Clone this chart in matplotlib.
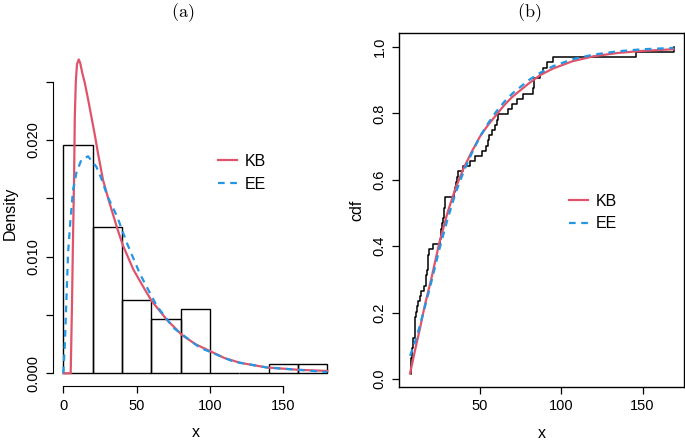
"""Histogram + fitted densities (a) and empirical cdf + fitted cdfs (b)."""

import numpy as np
import matplotlib
matplotlib.use("Agg")
import matplotlib.pyplot as plt

plt.rcParams["font.family"] = ["Liberation Sans", "DejaVu Sans"]
plt.rcParams["mathtext.fontset"] = "cm"

sample = [
    7.6, 7.7, 7.8, 7.9, 8.0, 8.05, 8.9, 9.0, 9.8, 9.9, 10.0, 10.1,
    10.8, 11.0, 11.8, 13.2, 14.0, 15.4, 16.6, 17.0, 17.2, 17.8, 18.0, 18.2,
    18.4, 21.0, 25.6, 25.9, 26.2, 26.8, 27.2, 27.6, 28.0, 28.4, 28.7,
    33.8, 34.4, 35.0, 35.8, 36.8, 39.8, 43.6, 47.0, 51.0, 53.5, 55.0,
    55.5, 57.6, 59.2, 60.4, 61.2, 67.4, 69.5, 72.6, 76.7, 82.9, 83.0,
    83.1, 87.0, 88.6, 91.0, 95.0, 146.0, 169.5,
]
breaks = [0, 20, 40, 60, 80, 100, 120, 140, 160, 180]

# fitted densities
kb_pdf_x = [0, 5.0, 5.9, 6.6, 7.3, 7.8, 8.5, 9.3, 10.5, 11.5, 12.8, 14.6, 17.0,
            19.1, 21.5, 23.7, 27.0, 31.0, 36.8, 40.5, 47.7, 55.0, 60.2, 70.5,
            80.7, 90.0, 100.0, 110.0, 120.5, 138.6, 160.0, 180.0]
kb_pdf_y = [0, 0, 0.0060, 0.0117, 0.0166, 0.0220, 0.0250, 0.0265, 0.0269, 0.0266,
            0.0258, 0.0249, 0.0234, 0.0220, 0.0204, 0.0188, 0.0166, 0.0148, 0.0124,
            0.0110, 0.0089, 0.0073, 0.0062, 0.0046, 0.0033, 0.0025, 0.0019, 0.0013,
            0.0009, 0.0005, 0.0003, 0.0002]
ee_pdf_x = [0, 1.0, 2.0, 3.2, 4.8, 6.6, 8.9, 12.3, 16.8, 22.5, 25.9, 30.0, 36.8,
            43.2, 52.3, 63.6, 75.0, 93.0, 116.0, 138.6, 160.0, 180.0]
ee_pdf_y = [0, 0.0025, 0.0060, 0.0103, 0.0131, 0.0157, 0.0172, 0.0183, 0.0186,
            0.0177, 0.0167, 0.0152, 0.0134, 0.0112, 0.0085, 0.0058, 0.0039,
            0.0022, 0.0010, 0.0005, 0.0003, 0.0001]

# fitted cdfs
kb_cdf_x = [7.0, 10, 13, 16, 20, 25, 30, 35, 40, 45, 50, 55, 60, 65, 70, 75, 80,
            87, 95, 107, 120, 135, 150, 169]
kb_cdf_y = [0.017, 0.085, 0.15, 0.22, 0.30, 0.41, 0.50, 0.575, 0.635, 0.685, 0.73,
            0.765, 0.795, 0.825, 0.85, 0.87, 0.89, 0.915, 0.935, 0.957, 0.972,
            0.982, 0.988, 0.993]
ee_cdf_x = [7.0, 10, 13, 16, 20, 25, 30, 35, 40, 45, 50, 55, 60, 65, 70, 75, 80,
            87, 95, 107, 120, 135, 150, 169]
ee_cdf_y = [0.07, 0.11, 0.16, 0.215, 0.29, 0.39, 0.48, 0.56, 0.625, 0.68, 0.73,
            0.77, 0.805, 0.835, 0.86, 0.88, 0.9, 0.922, 0.942, 0.963, 0.977,
            0.987, 0.993, 0.997]

RED = "#DF536B"
BLUE = "#2297E6"
FS = 10.5
W, H = 685, 442

fig = plt.figure(figsize=(W / 100, H / 100), dpi=100)


def rect(x0, y0, x1, y1):
    # pixel box (top-left origin) -> figure fraction
    return [x0 / W, 1 - y1 / H, (x1 - x0) / W, (y1 - y0) / H]


# ---- panel (a) ----
ax1 = fig.add_axes(rect(52.8, 40, 337.9, 386))
ax1.hist(sample, bins=breaks, density=True, histtype="bar",
         facecolor="none", edgecolor="black", linewidth=1.0)
ax1.plot(kb_pdf_x, kb_pdf_y, color=RED, lw=1.6, label="KB")
ax1.plot(ee_pdf_x, ee_pdf_y, color=BLUE, lw=1.6, ls=(0, (3, 2.5)), label="EE")
ax1.set_xlim(-7.2, 187.2)
ax1.set_ylim(-0.00109, 0.02857)
for s in ["top", "right"]:
    ax1.spines[s].set_visible(False)
ax1.spines["left"].set_bounds(0, 0.025)
ax1.spines["bottom"].set_bounds(0, 150)
ax1.set_xticks([0, 50, 100, 150])
ax1.set_yticks([0, 0.005, 0.01, 0.015, 0.02, 0.025])
ax1.set_yticklabels(["0.000", "", "0.010", "", "0.020", ""], rotation=90, va="center")
ax1.tick_params(direction="out", length=5, width=0.9, labelsize=FS, pad=4)
ax1.set_xlabel("x", fontsize=FS + 1, labelpad=9)
ax1.set_ylabel("Density", fontsize=FS + 1, labelpad=6)
ax1.legend(loc="center left", bbox_to_anchor=(218 / W, 1 - 173 / H),
           bbox_transform=fig.transFigure, frameon=False, fontsize=FS + 1,
           borderpad=0, borderaxespad=0, handlelength=1.2, handletextpad=0.5,
           labelspacing=0.5)
fig.text(183 / W, 1 - 13 / H, r"$\mathrm{(a)}$", ha="center", va="center", fontsize=13)

# ---- panel (b) ----
ax2 = fig.add_axes(rect(399.3, 33.3, 684, 386.7))
xs = np.sort(sample)
ys = np.arange(1, len(xs) + 1) / len(xs)
ax2.step(xs, ys, where="post", color="black", lw=1.1)
ax2.plot(kb_cdf_x, kb_cdf_y, color=RED, lw=1.6, label="KB")
ax2.plot(ee_cdf_x, ee_cdf_y, color=BLUE, lw=1.6, ls=(0, (3, 2.5)), label="EE")
ax2.set_xlim(0.4, 175.5)
ax2.set_ylim(-0.023, 1.041)
ax2.set_xticks([50, 100, 150])
ax2.set_yticks([0, 0.2, 0.4, 0.6, 0.8, 1.0])
ax2.set_yticklabels(["0.0", "0.2", "0.4", "0.6", "0.8", "1.0"], rotation=90, va="center")
for s in ax2.spines.values():
    s.set_linewidth(1.0)
ax2.tick_params(direction="out", length=5, width=0.9, labelsize=FS, pad=4)
ax2.set_xlabel("x", fontsize=FS + 1, labelpad=9)
ax2.set_ylabel("cdf", fontsize=FS + 1, labelpad=6)
ax2.legend(loc="center left", bbox_to_anchor=(569 / W, 1 - 212.5 / H),
           bbox_transform=fig.transFigure, frameon=False, fontsize=FS + 1,
           borderpad=0, borderaxespad=0, handlelength=1.2, handletextpad=0.5,
           labelspacing=0.5)
fig.text(529 / W, 1 - 13 / H, r"$\mathrm{(b)}$", ha="center", va="center", fontsize=13)

fig.savefig("out.png", dpi=100)
